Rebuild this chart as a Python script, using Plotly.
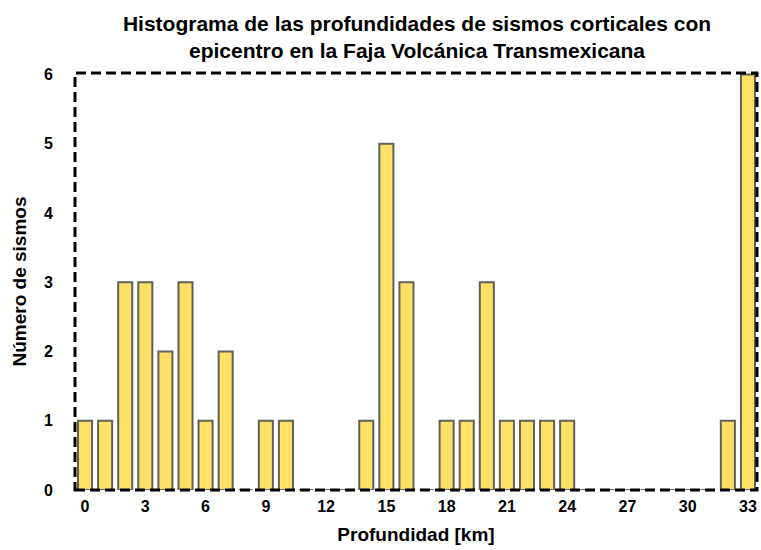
import plotly.graph_objects as go

# depth (km) and number of earthquakes
profundidad = list(range(0, 34))
num_sismos = [1, 1, 3, 3, 2, 3, 1, 2, 0, 1, 1, 0, 0, 0, 1, 5, 3, 0,
              1, 1, 3, 1, 1, 1, 1, 0, 0, 0, 0, 0, 0, 0, 1, 6]
x_ticks = list(range(0, 34, 3))
y_ticks = list(range(0, 7))

titulo = ("Histograma de las profundidades de sismos corticales con<br>"
          "epicentro en la Faja Volcánica Transmexicana")

fnt = "Liberation Sans"

fig = go.Figure()
fig.add_trace(go.Bar(
    x=profundidad,
    y=num_sismos,
    width=0.7,
    marker=dict(color="#FFE066", line=dict(color="#5F625B", width=2)),
))

fig.update_layout(
    width=761, height=550,
    margin=dict(l=75, r=4, t=73, b=60),
    paper_bgcolor="white",
    plot_bgcolor="white",
    showlegend=False,
    title=dict(text="<b>" + titulo + "</b>", x=0.548, xanchor="center",
               y=1 - 31 / 550, yanchor="middle",
               font=dict(family=fnt, size=21, color="black")),
    xaxis=dict(range=[-0.5, 33.45], tickvals=x_ticks, showgrid=False,
               zeroline=False, showline=False, ticks="",
               ticklabelstandoff=5,
               tickfont=dict(family=fnt, size=16, color="black", weight="bold"),
               title=dict(text="<b>Profundidad [km]</b>", standoff=13,
                          font=dict(family=fnt, size=19, color="black"))),
    yaxis=dict(range=[0, 6.02], tickvals=y_ticks, showgrid=False,
               zeroline=False, showline=False, ticks="",
               ticklabelstandoff=21,
               tickfont=dict(family=fnt, size=16, color="black", weight="bold"),
               title=dict(text="<b>Número de sismos</b>", standoff=12,
                          font=dict(family=fnt, size=19, color="black"))),
    shapes=[dict(type="rect", xref="paper", yref="paper", x0=0, y0=0, x1=1, y1=1,
                 line=dict(color="black", width=3, dash="10px,5px"), layer="above")],
)

# drop the default page margin so the figure fills the window exactly
fig.write_html("out.html",
               config={"displayModeBar": False},
               post_script="document.body.style.margin='0';"
                           "document.body.style.overflow='hidden';")
